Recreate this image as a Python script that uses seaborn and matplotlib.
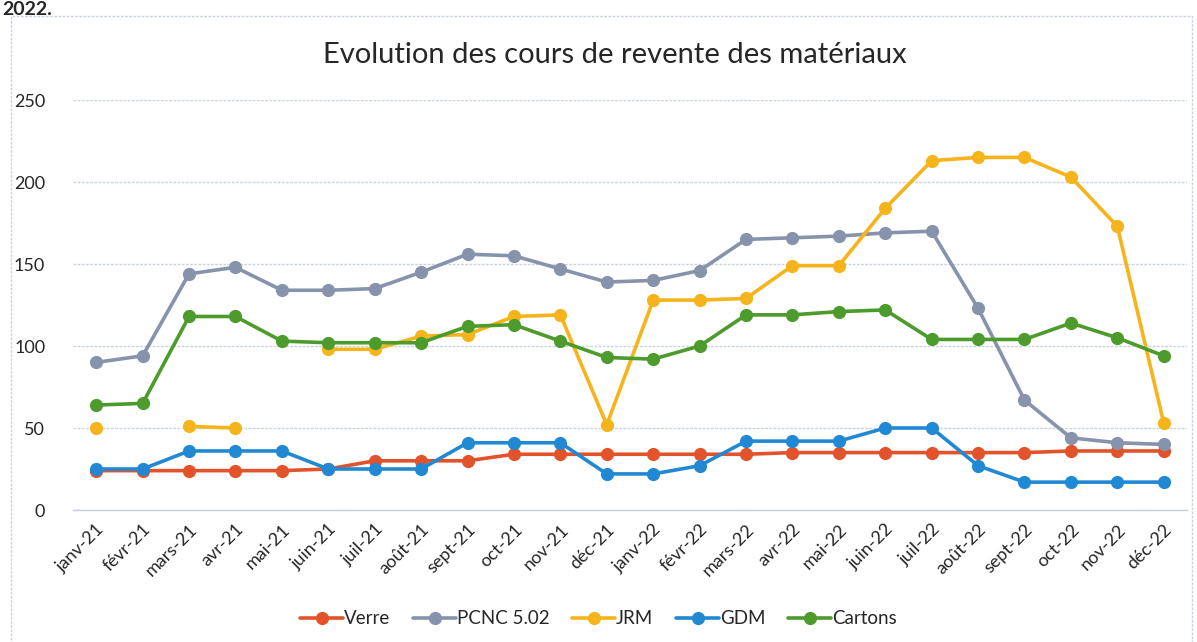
import numpy as np
import pandas as pd
import seaborn as sb
from matplotlib import pyplot as plt
from matplotlib.patches import Rectangle

months = ['janv-21', 'févr-21', 'mars-21', 'avr-21', 'mai-21', 'juin-21', 'juil-21', 'août-21',
          'sept-21', 'oct-21', 'nov-21', 'déc-21', 'janv-22', 'févr-22', 'mars-22', 'avr-22',
          'mai-22', 'juin-22', 'juil-22', 'août-22', 'sept-22', 'oct-22', 'nov-22', 'déc-22']

verre = [24, 24, 24, 24, 24, 25, 30, 30, 30, 34, 34, 34,
         34, 34, 34, 35, 35, 35, 35, 35, 35, 36, 36, 36]
pcnc = [90, 94, 144, 148, 134, 134, 135, 145, 156, 155, 147, 139,
        140, 146, 165, 166, 167, 169, 170, 123, 67, 44, 41, 40]
jrm = [50, np.nan, 51, 50, np.nan, 98, 98, 106, 107, 118, 119, 52,
       128, 128, 129, 149, 149, 184, 213, 215, 215, 203, 173, 53]
gdm = [25, 25, 36, 36, 36, 25, 25, 25, 41, 41, 41, 22,
       22, 27, 42, 42, 42, 50, 50, 27, 17, 17, 17, 17]
cartons = [64, 65, 118, 118, 103, 102, 102, 102, 112, 113, 103, 93,
           92, 100, 119, 119, 121, 122, 104, 104, 104, 114, 105, 94]

series = {'Verre': verre, 'PCNC 5.02': pcnc, 'JRM': jrm, 'GDM': gdm, 'Cartons': cartons}
colors = {'Verre': '#E2532B', 'PCNC 5.02': '#8793AB', 'JRM': '#F6B41C',
          'GDM': '#2189D3', 'Cartons': '#4C9B2C'}

sb.set_style('white')
plt.rcParams['font.family'] = ['Lato', 'DejaVu Sans']

fig = plt.figure(figsize=(11.97, 6.42), dpi=100)
ax = fig.add_axes([0.061, 0.2056, 0.9306, 0.6386])

x = np.arange(len(months))
for name, vals in series.items():
    df = pd.DataFrame({'x': x, 'y': vals})
    # split at gaps so missing months break the line
    grp = df['y'].isna().cumsum()
    first = True
    for _, part in df.dropna().groupby(grp[df['y'].notna()]):
        sb.lineplot(data=part, x='x', y='y', ax=ax, color=colors[name], lw=2.6,
                    marker='o', markersize=9.5, markeredgewidth=0,
                    label=name if first else None, legend=False)
        first = False

ax.set_ylim(0, 250)
ax.set_xlim(-0.5, len(months) - 0.5)
ax.set_yticks([0, 50, 100, 150, 200, 250])
ax.set_xticks(x)
ax.set_xticklabels(months, rotation=45, ha='right', rotation_mode='anchor', fontsize=13)
ax.set_xticks(np.arange(-0.5, len(months)), minor=True)
ax.tick_params(axis='x', which='major', length=0, pad=8)
ax.tick_params(axis='x', which='minor', length=5, color='#c5cedb', width=1)
ax.tick_params(axis='y', length=0, labelsize=13, pad=20)
ax.set_xlabel('')
ax.set_ylabel('')
ax.yaxis.grid(True, color='#c9d3e2', lw=1, ls=(0, (2, 1)))
for s in ['top', 'right', 'left']:
    ax.spines[s].set_visible(False)
ax.spines['bottom'].set_color('#c5cedb')
ax.spines['bottom'].set_linewidth(1)

fig.text(0.514, 0.915, 'Evolution des cours de revente des matériaux', ha='center', va='center', fontsize=21)
fig.text(0.002, 0.998, '2022.', ha='left', va='top', fontsize=14, fontweight='bold')

handles, labels = ax.get_legend_handles_labels()
fig.legend(handles, labels, loc='center', bbox_to_anchor=(0.5, 0.036), ncol=5, frameon=False,
           fontsize=13.5, handlelength=2.3, handletextpad=0.05, columnspacing=1.2)

fig.patches.append(Rectangle((0.009, -0.01), 0.987, 0.985, transform=fig.transFigure,
                             fill=False, ec='#c9d3e2', lw=1, ls=(0, (2, 1))))

fig.savefig('out.png', dpi=100)
